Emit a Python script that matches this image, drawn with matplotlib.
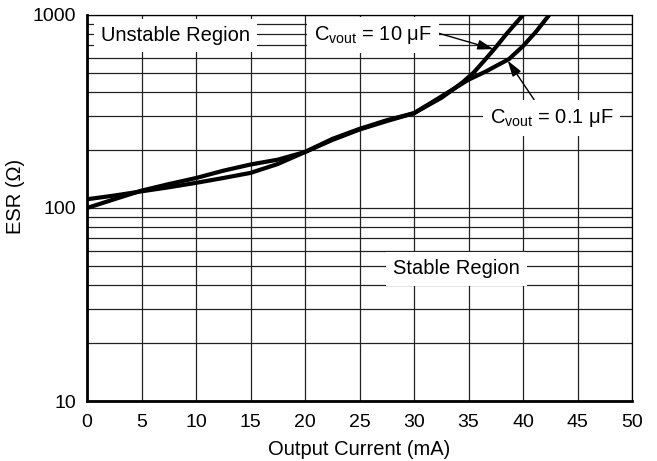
import numpy as np
import matplotlib
matplotlib.use("Agg")
import matplotlib.pyplot as plt
from matplotlib.ticker import FixedLocator, NullFormatter

plt.rcParams["font.family"] = ["Liberation Sans", "DejaVu Sans"]
plt.rcParams["mathtext.fontset"] = "custom"
plt.rcParams["mathtext.rm"] = "Liberation Sans"
plt.rcParams["mathtext.it"] = "Liberation Sans"

# data
x_10uF = [0, 2.5, 5, 7.5, 10, 12.5, 15, 17.5, 20, 22.5, 25, 27.5, 30, 32.5,
          33.5, 34.5, 35.5, 36.5, 37.5, 38.5, 40]
esr_10uF = [100, 111, 123, 133, 143, 156, 168, 178, 195, 225, 255, 282, 310, 372,
            408, 450, 505, 585, 680, 800, 1000]

x_01uF = [0, 2.5, 5, 7.5, 10, 12.5, 15, 17.5, 20, 22.5, 25, 27.5, 30, 32.5, 35,
          36.6, 37.7, 38.7, 40, 41.2, 42.4]
esr_01uF = [111, 116, 122, 128, 135, 143, 152, 169, 195, 228, 257, 285, 310, 378, 462,
            510, 551, 590, 690, 820, 1000]

xticks = [0, 5, 10, 15, 20, 25, 30, 35, 40, 45, 50]
yticks = [10, 100, 1000]
ytick_labels = ["10", "100", "1000"]

fig = plt.figure(figsize=(6.57, 4.61), dpi=100)
ax = fig.add_axes([87/657, 1 - 401/461, 545/657, 386/461])

ax.set_yscale("log")
ax.set_xlim(0, 50)
ax.set_ylim(10, 1000)

ax.set_xticks(xticks)
ax.set_yticks(yticks)
ax.set_yticklabels(ytick_labels)
minors = [m * d for d in (10, 100) for m in range(2, 10)]
ax.yaxis.set_minor_locator(FixedLocator(minors))
ax.yaxis.set_minor_formatter(NullFormatter())
ax.tick_params(which="both", length=0, labelsize=14, colors="black")
ax.tick_params(axis="y", pad=8)
ax.tick_params(axis="x", pad=9)

ax.grid(True, which="both", color="#222222", linewidth=0.9)
ax.set_axisbelow(True)

for s in ["top", "right"]:
    ax.spines[s].set_linewidth(0.9)
for s in ["left", "bottom"]:
    ax.spines[s].set_linewidth(2)

ax.plot(x_10uF, esr_10uF, color="black", linewidth=3, zorder=5,
        solid_capstyle="butt", solid_joinstyle="round")
ax.plot(x_01uF, esr_01uF, color="black", linewidth=3, zorder=5,
        solid_capstyle="butt", solid_joinstyle="round")

box = dict(facecolor="white", edgecolor="none", boxstyle="square,pad=0.35")
ax.text(8.15, 787, "Unstable Region", fontsize=14.5, ha="center", va="center", bbox=box, zorder=3)
ax.text(33.9, 48.3, "Stable Region", fontsize=14.5, ha="center", va="center", bbox=box, zorder=3)

ax.annotate(r"C$_{\mathrm{vout}}$ = 10 μF", xy=(37.3, 665), xytext=(26.2, 787),
            fontsize=14.5, ha="center", va="center", bbox=box, zorder=3,
            arrowprops=dict(arrowstyle="-|>,head_length=0.8,head_width=0.25", color="black",
                            lw=1, shrinkA=0, shrinkB=0, relpos=(1.05, 0.6), mutation_scale=12))
ax.annotate(r"C$_{\mathrm{vout}}$ = 0.1 μF", xy=(38.6, 580), xytext=(42.6, 293),
            fontsize=14.5, ha="center", va="center", bbox=box, zorder=3,
            arrowprops=dict(arrowstyle="-|>,head_length=0.8,head_width=0.25", color="black",
                            lw=1, shrinkA=0, shrinkB=0, relpos=(0.4, 1.0), mutation_scale=12))

ax.set_xlabel("Output Current (mA)", fontsize=14.5, labelpad=7)
ax.set_ylabel("ESR (Ω)", fontsize=14.5)
ax.yaxis.set_label_coords(-0.114, 0.53)

fig.savefig("out.png", dpi=100)
